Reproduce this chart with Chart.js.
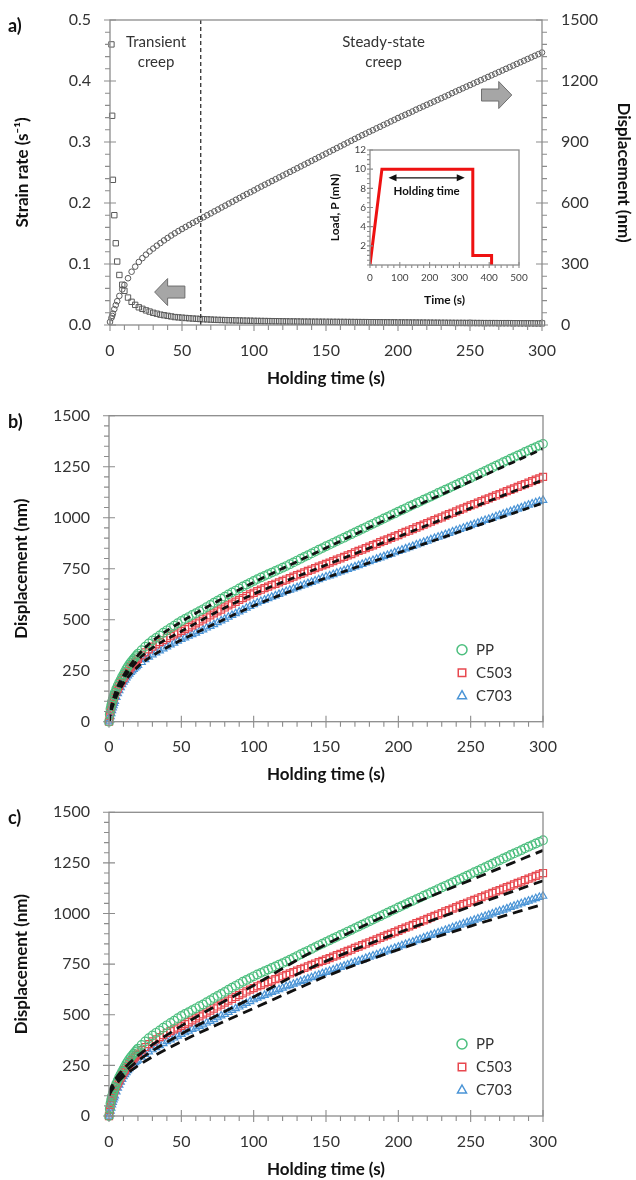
<!DOCTYPE html>
<html>
<head>
<meta charset="utf-8">
<script src="https://cdn.jsdelivr.net/npm/chart.js@4.4.0/dist/chart.umd.min.js"></script>
<style>
  body { margin: 0; background: #fff; width: 636px; height: 1180px; position: relative; overflow: hidden; }
  canvas { position: absolute; left: 0; }
</style>
</head>
<body>
<canvas id="chartA" width="636" height="395" style="top:0"></canvas>
<canvas id="insetLoad" width="212" height="175" style="left:318px;top:140px"></canvas>
<canvas id="chartB" width="636" height="395" style="top:395px"></canvas>
<canvas id="chartC" width="636" height="390" style="top:790px"></canvas>
<script>
// ---- panel a: strain rate + displacement vs holding time ----
const timeA = [0, 1, 1.5, 2, 3, 4, 5, 6.5, 8.5, 10, 12.5, 15, 17.5,
  20, 22.5, 25, 27.5, 30, 32.5, 35, 37.5, 40, 42.5,
  45, 47.5, 50, 52.5, 55, 57.5, 60, 62.5, 65, 67.5,
  70, 72.5, 75, 77.5, 80, 82.5, 85, 87.5, 90, 92.5,
  95, 97.5, 100, 102.5, 105, 107.5, 110, 112.5, 115, 117.5,
  120, 122.5, 125, 127.5, 130, 132.5, 135, 137.5, 140, 142.5,
  145, 147.5, 150, 152.5, 155, 157.5, 160, 162.5, 165, 167.5,
  170, 172.5, 175, 177.5, 180, 182.5, 185, 187.5, 190, 192.5,
  195, 197.5, 200, 202.5, 205, 207.5, 210, 212.5, 215, 217.5,
  220, 222.5, 225, 227.5, 230, 232.5, 235, 237.5, 240, 242.5,
  245, 247.5, 250, 252.5, 255, 257.5, 260, 262.5, 265, 267.5,
  270, 272.5, 275, 277.5, 280, 282.5, 285, 287.5, 290, 292.5,
  295, 297.5, 300];
const strainRate = [null, 0.46, 0.343, 0.238, 0.18, 0.134, 0.104, 0.082, 0.066, 0.056, 0.045, 0.038, 0.033,
  0.029, 0.0265, 0.024, 0.022, 0.020, 0.0185, 0.017, 0.016, 0.015, 0.014,
  0.013, 0.0125, 0.012, 0.0115, 0.011, 0.0106, 0.0102, 0.0098, 0.0095, 0.0092,
  0.0089, 0.0086, 0.0084, 0.0082, 0.008, 0.0078, 0.0077, 0.0075, 0.0074, 0.0072,
  0.0071, 0.007, 0.0068, 0.0067, 0.0066, 0.0065, 0.0064, 0.0063, 0.0062, 0.0061,
  0.006, 0.0059, 0.0058, 0.0058, 0.0057, 0.0056, 0.0055, 0.0055, 0.0054, 0.0054,
  0.0053, 0.0053, 0.0052, 0.0052, 0.0051, 0.0051, 0.005, 0.005, 0.0049, 0.0049,
  0.0048, 0.0048, 0.0047, 0.0047, 0.0046, 0.0046, 0.0045, 0.0045, 0.0044, 0.0044,
  0.0043, 0.0043, 0.0042, 0.0042, 0.0041, 0.0041, 0.004, 0.004, 0.0039, 0.0039,
  0.0038, 0.0038, 0.0037, 0.0037, 0.0036, 0.0036, 0.0035, 0.0035, 0.0034, 0.0034,
  0.0034, 0.0033, 0.0033, 0.0033, 0.0032, 0.0032, 0.0031, 0.0031, 0.0031, 0.0031,
  0.003, 0.003, 0.003, 0.003, 0.0029, 0.0029, 0.0028, 0.0028, 0.0028, 0.0028,
  0.0027, 0.0027, 0.0027];
const dispA = [15, 35, 45, 56, 78, 98, 117, 143, 175, 197, 230, 262, 287,
  310, 329, 346, 362, 376, 390, 403, 416, 428, 440,
  451, 462, 472, 482, 492, 502, 511, 521, 530, 540,
  549, 559, 568, 578, 587, 597, 606, 616, 625, 635,
  644, 653, 662, 672, 681, 690, 699, 708, 717, 726,
  735, 744, 753, 762, 771, 780, 789, 798, 807, 816,
  825, 834, 843, 852, 861, 870, 879, 888, 897, 906,
  915, 924, 933, 941, 950, 958, 967, 975, 984, 992,
  1001, 1009, 1018, 1026, 1034, 1042, 1050, 1059, 1067, 1075,
  1083, 1091, 1099, 1107, 1115, 1123, 1131, 1140, 1148, 1156,
  1164, 1172, 1180, 1188, 1196, 1204, 1212, 1220, 1228, 1236,
  1244, 1252, 1260, 1268, 1276, 1284, 1292, 1300, 1308, 1316,
  1324, 1332, 1340];
const transitionTime = 63;

// inset: load schedule
const loadTime = [0, 40, 345, 345, 408, 408];
const loadValue = [0, 10, 10, 1, 1, 0];

// ---- panels b and c: displacement of PP, C503, C703 ----
const holdTime = [0, 0.5, 1, 1.5, 2, 2.5, 3, 3.5, 4, 5, 6, 7, 8, 9, 10, 11, 12, 13, 14, 15, 16, 17, 18, 19,
  20, 22.5, 25, 27.5, 30, 32.5, 35, 37.5, 40, 42.5,
  45, 47.5, 50, 52.5, 55, 57.5, 60, 62.5, 65, 67.5,
  70, 72.5, 75, 77.5, 80, 82.5, 85, 87.5, 90, 92.5,
  95, 97.5, 100, 102.5, 105, 107.5, 110, 112.5, 115, 117.5,
  120, 122.5, 125, 127.5, 130, 132.5, 135, 137.5, 140, 142.5,
  145, 147.5, 150, 152.5, 155, 157.5, 160, 162.5, 165, 167.5,
  170, 172.5, 175, 177.5, 180, 182.5, 185, 187.5, 190, 192.5,
  195, 197.5, 200, 202.5, 205, 207.5, 210, 212.5, 215, 217.5,
  220, 222.5, 225, 227.5, 230, 232.5, 235, 237.5, 240, 242.5,
  245, 247.5, 250, 252.5, 255, 257.5, 260, 262.5, 265, 267.5,
  270, 272.5, 275, 277.5, 280, 282.5, 285, 287.5, 290, 292.5,
  295, 297.5, 300];
const dispPP = [0, 35, 62, 80, 95, 108, 120, 131, 142, 160, 176, 191, 205, 219, 232, 245, 258, 269, 280, 290, 299, 308, 316, 325,
  333, 351, 368, 384, 398, 411, 423, 436, 448, 460,
  471, 483, 494, 504, 513, 523, 532, 542, 551, 562,
  572, 583, 593, 603, 613, 624, 634, 643, 653, 663,
  672, 681, 690, 699, 707, 715, 723, 731, 739, 747,
  755, 763, 772, 781, 790, 799, 808, 816, 825, 834,
  843, 851, 860, 868, 877, 885, 894, 902, 911, 919,
  928, 936, 945, 953, 962, 970, 979, 987, 996, 1004,
  1013, 1021, 1030, 1038, 1046, 1055, 1063, 1071, 1079, 1088,
  1096, 1104, 1112, 1121, 1129, 1137, 1145, 1154, 1162, 1170,
  1178, 1187, 1195, 1204, 1212, 1221, 1229, 1238, 1246, 1255,
  1263, 1272, 1280, 1289, 1297, 1305, 1313, 1322, 1330, 1338,
  1346, 1354, 1362];
const dispC503 = [0, 30, 55, 72, 88, 100, 112, 122, 132, 148, 162, 176, 190, 203, 215, 227, 238, 248, 258, 267, 276, 285, 293, 301,
  308, 325, 340, 355, 368, 379, 390, 400, 410, 419,
  428, 437, 445, 454, 463, 472, 482, 492, 502, 511,
  521, 531, 541, 550, 560, 570, 579, 588, 597, 606,
  615, 624, 632, 640, 647, 655, 662, 669, 676, 683,
  690, 697, 704, 711, 718, 725, 732, 739, 746, 753,
  760, 766, 773, 780, 787, 794, 801, 808, 815, 822,
  830, 837, 844, 851, 858, 865, 872, 880, 887, 894,
  901, 908, 915, 923, 930, 937, 944, 952, 959, 966,
  973, 981, 988, 995, 1002, 1010, 1017, 1024, 1031, 1039,
  1046, 1053, 1060, 1067, 1074, 1081, 1088, 1095, 1102, 1109,
  1116, 1123, 1130, 1137, 1144, 1151, 1158, 1165, 1172, 1179,
  1186, 1193, 1200];
const dispC703 = [0, 10, 25, 40, 55, 68, 80, 90, 100, 120, 138, 153, 168, 182, 195, 205, 215, 225, 234, 242, 250, 257, 264, 271,
  277, 291, 305, 317, 328, 338, 348, 358, 368, 377,
  386, 395, 404, 412, 420, 428, 435, 443, 451, 460,
  468, 477, 486, 495, 503, 513, 522, 531, 539, 548,
  557, 566, 575, 583, 590, 597, 604, 611, 618, 625,
  632, 639, 645, 652, 658, 665, 671, 678, 684, 691,
  697, 704, 710, 716, 722, 729, 735, 741, 747, 754,
  760, 766, 772, 779, 785, 791, 797, 804, 810, 816,
  822, 829, 835, 842, 848, 854, 860, 867, 873, 880,
  886, 893, 899, 905, 911, 918, 924, 931, 937, 943,
  949, 956, 962, 968, 974, 981, 987, 993, 999, 1006,
  1012, 1018, 1024, 1031, 1037, 1043, 1049, 1056, 1062, 1068,
  1074, 1080, 1086];

// fitted curves (black dashed)
const fitTime = [0, 1, 2, 5, 10, 20, 30, 50, 75, 100, 130, 150, 200, 250, 300];
const fitB_PP = [0, 55, 85, 155, 225, 325, 395, 490, 590, 683, 785, 852, 1018, 1178, 1338];
const fitB_C503 = [0, 50, 80, 145, 210, 302, 362, 443, 540, 626, 712, 768, 907, 1047, 1185];
const fitB_C703 = [0, 38, 65, 122, 188, 270, 323, 400, 486, 568, 652, 705, 828, 950, 1072];
const fitC_PP = [110, 130, 148, 188, 232, 298, 352, 445, 548, 645, 770, 848, 1018, 1165, 1312];
const fitC_C503 = [105, 122, 138, 172, 212, 272, 322, 405, 498, 588, 700, 765, 905, 1035, 1162];
const fitC_C703 = [100, 115, 128, 158, 195, 248, 292, 368, 452, 532, 628, 690, 822, 938, 1046];

const materials = ['PP', 'C503', 'C703'];
const matColors = { PP: '#4dbf7f', C503: '#e8484f', C703: '#4a94d6' };
const matStyles = { PP: 'circle', C503: 'rect', C703: 'triangle' };

Chart.defaults.font.family = 'Lato, "Open Sans", sans-serif';
Chart.defaults.color = '#333';
Chart.defaults.animation = false;

const pts = (xs, ys) => xs.map((x, i) => ({ x: x, y: ys[i] }));
const axisGray = '#8c8c8c';

// keep label padding from pushing the plot area around
function noPad(s) {
  s.paddingTop = 0; s.paddingBottom = 0; s.paddingLeft = 0; s.paddingRight = 0;
}

function drawTicks(ctx, scale, area, side, minorStep, major, minor) {
  ctx.beginPath();
  const mark = (v, lenIn, lenOut) => {
    const p = scale.getPixelForValue(v);
    if (side === 'bottom') { ctx.moveTo(p, area.bottom - lenIn); ctx.lineTo(p, area.bottom + lenOut); }
    else if (side === 'left') { ctx.moveTo(area.left + lenIn, p); ctx.lineTo(area.left - lenOut, p); }
    else { ctx.moveTo(area.right - lenIn, p); ctx.lineTo(area.right + lenOut, p); }
  };
  const n = Math.round((scale.max - scale.min) / minorStep);
  for (let i = 0; i <= n; i++) mark(scale.min + i * minorStep, 0, minor);
  scale.ticks.forEach(t => mark(t.value, major, major));
  ctx.stroke();
}

function drawFrame(chart, axes, major, minor) {
  const { ctx, chartArea: a } = chart;
  ctx.save();
  ctx.strokeStyle = axisGray;
  ctx.lineWidth = 1.3;
  ctx.strokeRect(a.left, a.top, a.right - a.left, a.bottom - a.top);
  ctx.lineWidth = 1.1;
  axes.forEach(ax => drawTicks(ctx, chart.scales[ax.id], a, ax.side, ax.minor, major, minor));
  ctx.restore();
}

function panelLabel(chart, text) {
  const ctx = chart.ctx;
  ctx.save();
  ctx.font = 'bold 18px Lato, sans-serif';
  ctx.fillStyle = '#111';
  ctx.textBaseline = 'middle';
  ctx.fillText(text, 8, chart.chartArea.top + 6);
  ctx.restore();
}

function markerShape(ctx, style, x, y, r) {
  ctx.beginPath();
  if (style === 'circle') ctx.arc(x, y, r, 0, Math.PI * 2);
  else if (style === 'rect') ctx.rect(x - r * 0.75, y - r * 0.75, r * 1.5, r * 1.5);
  else { ctx.moveTo(x, y - r); ctx.lineTo(x + r * 0.9, y + r * 0.6); ctx.lineTo(x - r * 0.9, y + r * 0.6); ctx.closePath(); }
  ctx.stroke();
}

function blockArrow(ctx, xTail, xTip, y) {
  const dir = Math.sign(xTip - xTail);
  const xNeck = xTip - dir * 13;
  ctx.beginPath();
  ctx.moveTo(xTail, y - 6);
  ctx.lineTo(xNeck, y - 6);
  ctx.lineTo(xNeck, y - 13.5);
  ctx.lineTo(xTip, y);
  ctx.lineTo(xNeck, y + 13.5);
  ctx.lineTo(xNeck, y + 6);
  ctx.lineTo(xTail, y + 6);
  ctx.closePath();
  ctx.fillStyle = '#a6a6a6';
  ctx.fill();
  ctx.strokeStyle = '#6e6e6e';
  ctx.lineWidth = 1;
  ctx.stroke();
}

function xAxis(height, titlePad) {
  return {
    type: 'linear', min: 0, max: 300,
    ticks: { stepSize: 50, padding: 16, font: { size: 16 }, color: '#333', maxRotation: 0 },
    grid: { display: false, drawTicks: false },
    border: { display: false },
    title: { display: true, text: 'Holding time (s)', color: '#111',
             font: { size: 17, weight: 'bold' }, padding: { top: 0, bottom: titlePad } },
    afterFit: s => { s.height = height; noPad(s); }
  };
}

function yAxis(opts) {
  return {
    type: 'linear', position: opts.position, min: opts.min, max: opts.max,
    ticks: { stepSize: opts.step, padding: 19, font: { size: 16 }, color: '#333', callback: opts.fmt },
    grid: { display: false, drawTicks: false, drawOnChartArea: false },
    border: { display: false },
    title: { display: true, text: opts.title, color: '#111',
             font: { size: 17, weight: 'bold' }, padding: { top: opts.titlePad, bottom: 0 } },
    afterFit: s => { s.width = opts.width; noPad(s); }
  };
}

// ---------- panel a ----------
const regionLabels = [
  { t: 32, lines: ['Transient', 'creep'] },
  { t: 190, lines: ['Steady-state', 'creep'] }
];
const blockArrows = [
  { from: 52, to: 31, rate: 0.054 },
  { from: 258, to: 279, rate: 0.377 }
];

const decorA = {
  id: 'decorA',
  afterDraw(chart) {
    drawFrame(chart, [
      { id: 'x', side: 'bottom', minor: 10 },
      { id: 'y', side: 'left', minor: 0.02 },
      { id: 'y2', side: 'right', minor: 60 }
    ], 6, 5);
    const { ctx, scales } = chart;
    ctx.save();
    ctx.font = '15px Lato, sans-serif';
    ctx.fillStyle = '#333';
    ctx.textAlign = 'center';
    ctx.textBaseline = 'middle';
    regionLabels.forEach(r => {
      const x = scales.x.getPixelForValue(r.t);
      ctx.fillText(r.lines[0], x, scales.y.getPixelForValue(0.463));
      ctx.fillText(r.lines[1], x, scales.y.getPixelForValue(0.431));
    });
    blockArrows.forEach(b => blockArrow(ctx, scales.x.getPixelForValue(b.from),
      scales.x.getPixelForValue(b.to), scales.y.getPixelForValue(b.rate)));
    ctx.restore();
    panelLabel(chart, 'a)');
  }
};

new Chart(document.getElementById('chartA'), {
  type: 'scatter',
  data: {
    datasets: [
      { data: [{ x: transitionTime, y: 0 }, { x: transitionTime, y: 0.5 }], yAxisID: 'y',
        showLine: true, borderColor: '#333', borderWidth: 1.3, borderDash: [4, 3], pointRadius: 0 },
      { label: 'Strain rate', data: pts(timeA, strainRate), yAxisID: 'y', pointStyle: 'rect',
        pointRadius: 3.8, borderColor: '#5a5a5a', backgroundColor: 'rgba(0,0,0,0)', pointBorderWidth: 1, clip: false },
      { label: 'Displacement', data: pts(timeA, dispA), yAxisID: 'y2', pointStyle: 'circle',
        pointRadius: 2.8, borderColor: '#5a5a5a', backgroundColor: 'rgba(0,0,0,0)', pointBorderWidth: 1, clip: false }
    ]
  },
  options: {
    responsive: false,
    layout: { padding: { top: 20, right: 0, bottom: 0, left: 0 } },
    plugins: { legend: { display: false }, tooltip: { enabled: false } },
    scales: {
      x: xAxis(70, 6),
      y: yAxis({ position: 'left', min: 0, max: 0.5, step: 0.1, fmt: v => v.toFixed(1),
                 title: 'Strain rate (s\u207B\u00B9)', titlePad: 12, width: 110 }),
      y2: yAxis({ position: 'right', min: 0, max: 1500, step: 300, fmt: v => v,
                  title: 'Displacement (nm)', titlePad: 2, width: 94 })
    }
  },
  plugins: [decorA]
});

// ---------- inset: load vs time ----------
const holdArrow = { from: 62, to: 318, load: 9.1, textLoad: 7.7 };
const decorInset = {
  id: 'decorInset',
  afterDraw(chart) {
    drawFrame(chart, [
      { id: 'x', side: 'bottom', minor: 20 },
      { id: 'y', side: 'left', minor: 0.5 }
    ], 3, 3);
    const { ctx, scales } = chart;
    const x0 = scales.x.getPixelForValue(holdArrow.from);
    const x1 = scales.x.getPixelForValue(holdArrow.to);
    const y = scales.y.getPixelForValue(holdArrow.load);
    ctx.save();
    ctx.strokeStyle = '#111';
    ctx.fillStyle = '#111';
    ctx.lineWidth = 1.2;
    ctx.beginPath(); ctx.moveTo(x0 + 4, y); ctx.lineTo(x1 - 4, y); ctx.stroke();
    [[x0, 1], [x1, -1]].forEach(([xa, d]) => {
      ctx.beginPath(); ctx.moveTo(xa, y); ctx.lineTo(xa + d * 8, y - 3.5); ctx.lineTo(xa + d * 8, y + 3.5); ctx.closePath(); ctx.fill();
    });
    ctx.font = 'bold 11.5px Lato, sans-serif';
    ctx.textAlign = 'center';
    ctx.textBaseline = 'middle';
    ctx.fillText('Holding time', (x0 + x1) / 2, scales.y.getPixelForValue(holdArrow.textLoad));
    ctx.restore();
  }
};

new Chart(document.getElementById('insetLoad'), {
  type: 'scatter',
  data: {
    datasets: [{ data: pts(loadTime, loadValue), showLine: true, borderColor: '#ee1111',
                 borderWidth: 3, pointRadius: 0, tension: 0 }]
  },
  options: {
    responsive: false,
    layout: { padding: { top: 10, right: 11, bottom: 0, left: 0 } },
    plugins: { legend: { display: false }, tooltip: { enabled: false } },
    scales: {
      x: {
        type: 'linear', min: 0, max: 500,
        ticks: { stepSize: 100, padding: 7, font: { size: 10 }, color: '#444', maxRotation: 0 },
        grid: { display: false, drawTicks: false }, border: { display: false },
        title: { display: true, text: 'Time (s)', color: '#111', font: { size: 12, weight: 'bold' },
                 padding: { top: 0, bottom: 8 } },
        afterFit: s => { s.height = 50; noPad(s); }
      },
      y: {
        type: 'linear', min: 0, max: 12,
        ticks: { stepSize: 2, padding: 4, font: { size: 10 }, color: '#444', callback: v => (v === 0 ? '' : v) },
        grid: { display: false, drawTicks: false }, border: { display: false },
        title: { display: true, text: 'Load, P (mN)', color: '#111', font: { size: 12, weight: 'bold' },
                 padding: { top: 10, bottom: 0 } },
        afterFit: s => { s.width = 52; noPad(s); }
      }
    }
  },
  plugins: [decorInset]
});

// ---------- panels b and c ----------
function makeDecor(label) {
  return {
    id: 'decor' + label,
    afterDraw(chart) {
      drawFrame(chart, [
        { id: 'x', side: 'bottom', minor: 10 },
        { id: 'y', side: 'left', minor: 50 }
      ], 6, 5);
      const { ctx, chartArea: a } = chart;
      ctx.save();
      ctx.font = '15px Lato, sans-serif';
      ctx.textBaseline = 'middle';
      ctx.lineWidth = 1.5;
      materials.forEach((m, i) => {
        const y = a.bottom - 72 + i * 23;
        ctx.strokeStyle = matColors[m];
        markerShape(ctx, matStyles[m], 462, y, 5);
        ctx.fillStyle = '#333';
        ctx.fillText(m, 476, y);
      });
      ctx.restore();
      panelLabel(chart, label);
    }
  };
}

function fitSet(ys, dash) {
  return { data: pts(fitTime, ys), showLine: true, borderColor: '#111', borderWidth: 2.8,
           borderDash: dash, pointRadius: 0, cubicInterpolationMode: 'monotone' };
}
function markerSet(m, ys) {
  return { label: m, data: pts(holdTime, ys), pointStyle: matStyles[m], pointRadius: m === 'C503' ? 5 : 4.3,
           borderColor: matColors[m], backgroundColor: 'rgba(0,0,0,0)', pointBorderWidth: 1.2, clip: false };
}

function displacementPanel(id, label, fits, dash, padTop, xHeight, titlePad) {
  new Chart(document.getElementById(id), {
    type: 'scatter',
    data: {
      datasets: [
        fitSet(fits[0], dash), fitSet(fits[1], dash), fitSet(fits[2], dash),
        markerSet('PP', dispPP), markerSet('C503', dispC503), markerSet('C703', dispC703)
      ]
    },
    options: {
      responsive: false,
      layout: { padding: { top: padTop, right: 93, bottom: 0, left: 0 } },
      plugins: { legend: { display: false }, tooltip: { enabled: false } },
      scales: {
        x: xAxis(xHeight, titlePad),
        y: yAxis({ position: 'left', min: 0, max: 1500, step: 250, fmt: v => v,
                   title: 'Displacement (nm)', titlePad: 11, width: 109 })
      }
    },
    plugins: [makeDecor(label)]
  });
}

displacementPanel('chartB', 'b)', [fitB_PP, fitB_C503, fitB_C703], [7, 5], 20.7, 68.3, 5);
displacementPanel('chartC', 'c)', [fitC_PP, fitC_C503, fitC_C703], [10, 6], 22.3, 64, 0);
</script>
</body>
</html>
